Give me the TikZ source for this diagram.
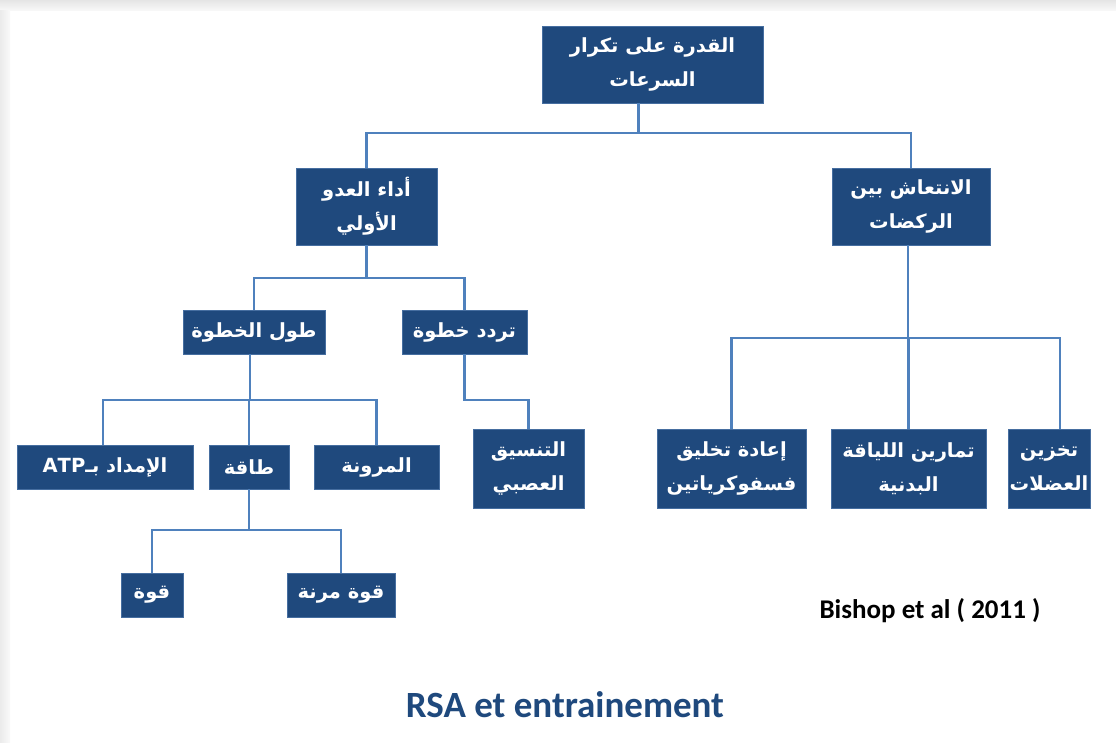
\documentclass[tikz,border=0pt]{standalone}
\usepackage{fontspec}
\TeXXeTstate=1
\newfontfamily\arabicfont[Script=Arabic]{DejaVu Sans}
\newfontfamily\calfont{Carlito}
\usetikzlibrary{calc}
\definecolor{boxblue}{RGB}{31,73,125}
\definecolor{boxedge}{RGB}{70,110,160}
\definecolor{linkblue}{RGB}{79,129,189}
\definecolor{titleblue}{RGB}{31,73,125}
\begin{document}
\begin{tikzpicture}[x=1pt,y=-1pt,
  nbox/.style={fill=boxblue,draw=boxedge,line width=0.6pt,text=white,
    font=\arabicfont\bfseries\fontsize{19.5}{34}\selectfont,align=center,inner sep=0pt},
  conn/.style={draw=linkblue,line width=2.2pt}]
\useasboundingbox (0,0) rectangle (1116,742);
\fill[white] (0,0) rectangle (1116,742);
\shade[top color=black!10,bottom color=black!3] (0,0) rectangle (1116,10);
\shade[left color=black!8,right color=black!2] (0,10) rectangle (10,742);

\node[nbox,minimum width=221,minimum height=77] (top) at (652.5,64.5) {\beginR القدرة على تكرار\endR\\\beginR السرعات\endR};
\node[nbox,minimum width=141,minimum height=77] (a) at (366.5,206.5) {\beginR أداء العدو\endR\\\beginR الأولي\endR};
\node[nbox,minimum width=158,minimum height=77] (r) at (911,206.5) {\beginR الانتعاش بين\endR\\\beginR الركضات\endR};
\node[nbox,minimum width=142,minimum height=44] (tk) at (254,332) {\beginR طول الخطوة\endR};
\node[nbox,minimum width=125,minimum height=44] (tr) at (464.5,332) {\beginR تردد خطوة\endR};
\node[nbox,minimum width=176,minimum height=44] (atp) at (105,467) {\beginR الإمداد بـ\beginL ATP\endL\endR};
\node[nbox,minimum width=80,minimum height=44] (taqa) at (249,467) {\beginR طاقة\endR};
\node[nbox,minimum width=125,minimum height=44] (mur) at (376.5,467) {\beginR المرونة\endR};
\node[nbox,minimum width=111,minimum height=79] (tans) at (528.5,468.5) {\beginR التنسيق\endR\\\beginR العصبي\endR};
\node[nbox,minimum width=149,minimum height=79] (iada) at (731.5,468.5) {\beginR إعادة تخليق\endR\\\beginR فسفوكرياتين\endR};
\node[nbox,minimum width=155,minimum height=79] (tam) at (908.5,468.5) {\beginR تمارين اللياقة\endR\\\beginR البدنية\endR};
\node[nbox,minimum width=82,minimum height=79] (takh) at (1049,468.5) {\beginR تخزين\endR\\\beginR العضلات\endR};
\node[nbox,minimum width=62,minimum height=44] (q) at (152,595) {\beginR قوة\endR};
\node[nbox,minimum width=108,minimum height=44] (qm) at (341,595) {\beginR قوة مرنة\endR};

\node[font=\calfont\bfseries\fontsize{27}{32}\selectfont,text=black] (cite) at (930,611) {Bishop et al ( 2011 )};
\node[font=\calfont\bfseries\fontsize{37}{44}\selectfont,text=titleblue] (title) at (565,705) {RSA et entrainement};

\draw[conn] ([xshift=-14pt]top.south) -- ++(0,30) coordinate (b1);
\draw[conn] (a.north) |- (b1) -| (r.north);
\draw[conn] (a.south) -- ++(0,33) coordinate (b2);
\draw[conn] (tk.north) |- (b2) -| (tr.north);
\draw[conn] ([xshift=-4pt]tk.south) -- ++(0,46) coordinate (b3);
\draw[conn] ([xshift=-2pt]atp.north) |- (b3) -| (mur.north);
\draw[conn] (taqa.north) -- (taqa.north |- b3);
\draw[conn] (tr.south) -- ++(0,46) -| (tans.north);
\draw[conn] ([xshift=-3pt]r.south) -- ++(0,93) coordinate (b4);
\draw[conn] (iada.north) |- (b4) -| ([xshift=11pt]takh.north);
\draw[conn] (tam.north) -- (tam.north |- b4);
\draw[conn] (taqa.south) -- ++(0,41) coordinate (b5);
\draw[conn] (q.north) |- (b5) -| (qm.north);
\end{tikzpicture}
\end{document}
